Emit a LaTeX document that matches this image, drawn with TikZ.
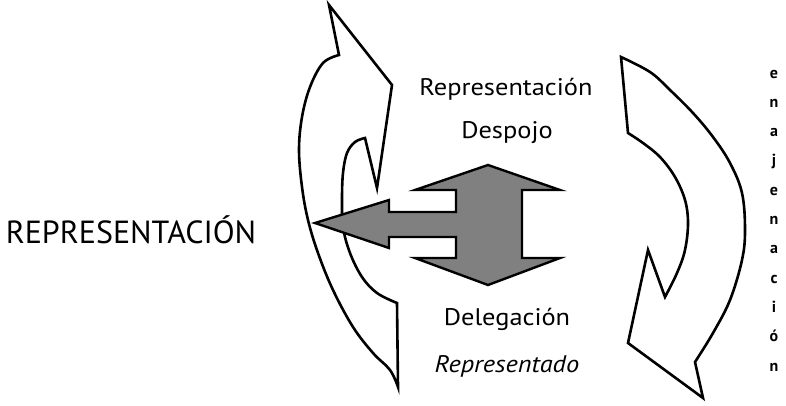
\documentclass[tikz,border=0pt]{standalone}
\usepackage{fontspec}
\setmainfont{PT Sans}
\newfontfamily\lblfont{PT Sans}[FakeStretch=1.1]
\begin{document}
\begin{tikzpicture}[x=1pt,y=-1pt,
  curvearrow/.style={draw=black,fill=white,line width=2.6pt,line join=miter},
  grayarrow/.style={draw=black,fill=gray,line width=2.4pt,line join=miter},
  label/.style={anchor=base,inner sep=0pt,font=\lblfont\fontsize{24}{28}\selectfont},
  vletter/.style={anchor=base,inner sep=0pt,font=\fontsize{16}{18}\selectfont\bfseries}]
\useasboundingbox (0,0) rectangle (786,405);

% left curved arrow (pointing up)
\path[curvearrow] (329,5) -- (392,85) -- (377,188) -- (365,138)
  -- plot[smooth,tension=0.6] coordinates {(365,138) (355,142) (347,153) (343,173) (342,200) (343,227) (350,253) (362,277) (377,293) (397,303)}
  -- (398,387)
  -- plot[smooth,tension=0.6] coordinates {(398,387) (390,370) (373,353) (353,327) (333,290) (318,253) (308,220) (302,187) (299,150) (302,117) (310,87) (323,63) (339,55)}
  -- cycle;

% right curved arrow (pointing down)
\path[curvearrow] (621,57) -- (628,133)
  -- plot[smooth,tension=0.6] coordinates {(628,133) (643,143) (660,157) (675,177) (685,200) (688,223) (685,250) (677,273) (665,297)}
  -- (648,250) -- (628,343) -- (703,398) -- (695,362)
  -- plot[smooth,tension=0.6] coordinates {(695,362) (713,333) (730,300) (742,260) (745,230) (742,193) (730,163) (713,137) (693,113) (670,90) (650,72) (621,57)}
  -- cycle;

% central gray arrow
\path[grayarrow] (315,223) -- (389,200) -- (389,212) -- (456,212) -- (456,190) -- (415,190)
  -- (488,165) -- (560,190) -- (522,190) -- (522,258) -- (560,258) -- (488,285)
  -- (415,258) -- (456,258) -- (456,237) -- (389,237) -- (389,248) -- cycle;

% labels
\node[label] (rep) at (506,95) {Representación};
\node[label] (desp) at (507,138) {Despojo};
\node[label] (del) at (507,325) {Delegación};
\node[label] (repdo) at (507,372) {\itshape Representado};
\node[anchor=base,inner sep=0pt,font=\fontsize{32}{36}\selectfont] (REP) at (131,243) {REPRESENTACIÓN};

% vertical word
\foreach \l [count=\i from 0] in {e,n,a,j,e,n,a,c,i,ó,n}{
  \node[vletter] (v\i) at (774,{78+29.3*\i}) {\l};
}
\end{tikzpicture}
\end{document}
